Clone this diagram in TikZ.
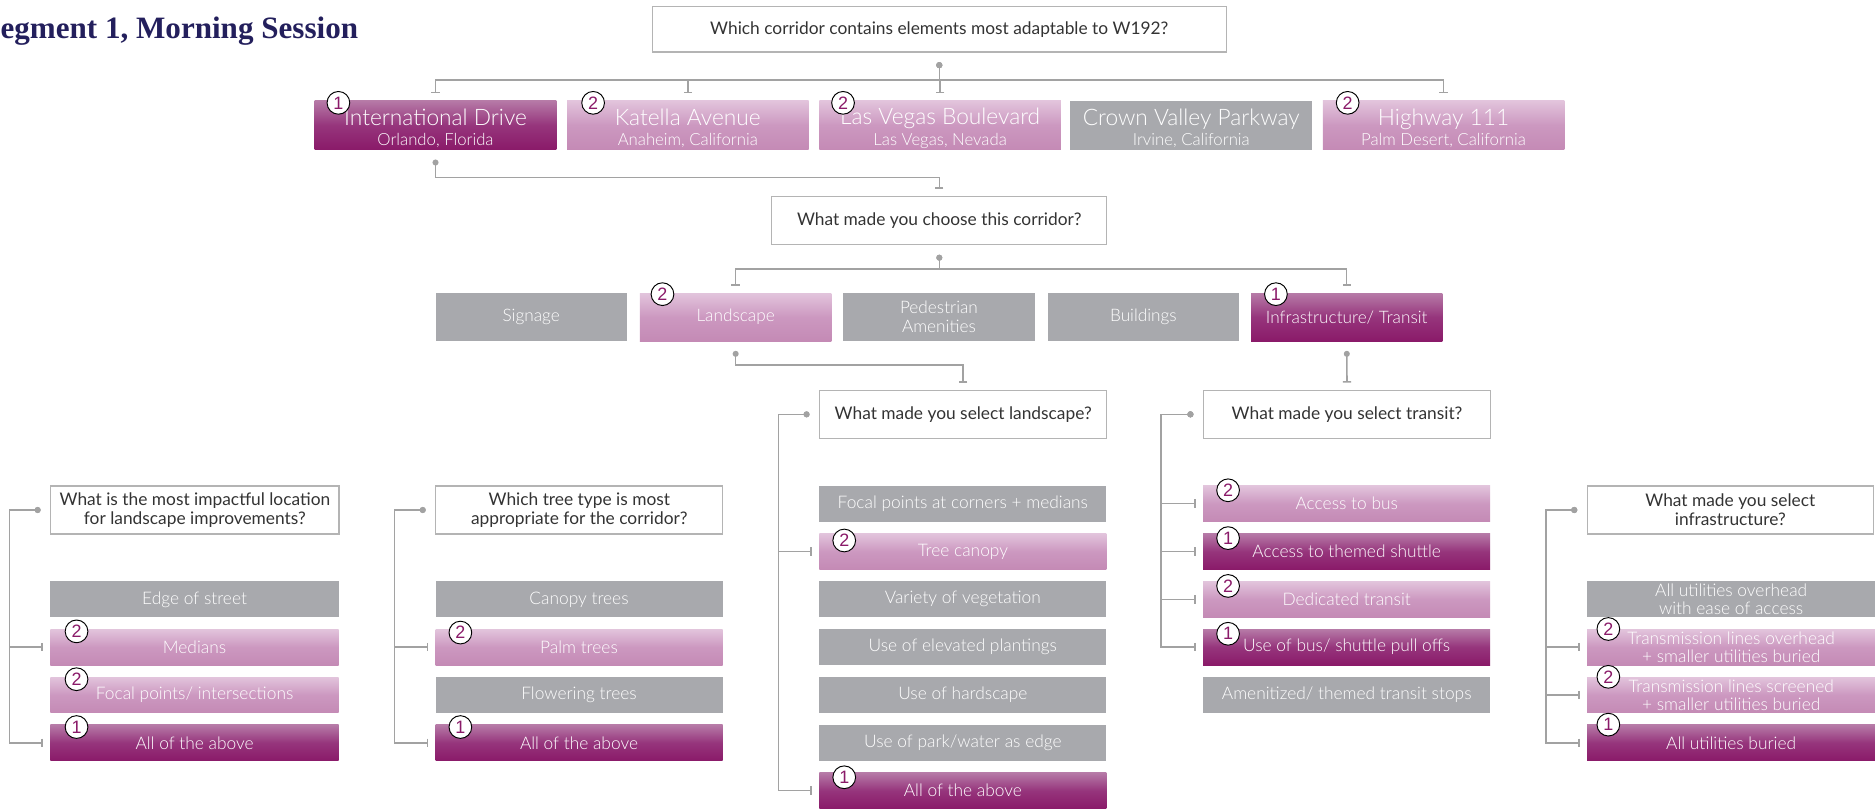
\documentclass[tikz,border=0pt]{standalone}
\usepackage{fontspec}
\setmainfont{Lato}[UprightFont={* Light}]
\newfontfamily\qfont{Lato}
\newfontfamily\titlefont{Liberation Serif}
\newfontfamily\numfont{Liberation Sans}
\usetikzlibrary{arrows.meta,calc}
\definecolor{cgray}{HTML}{A8A9AD}
\definecolor{lA}{HTML}{E2C4DC}
\definecolor{lB}{HTML}{CC98C0}
\definecolor{lC}{HTML}{C48AB5}
\definecolor{dA}{HTML}{B67AA7}
\definecolor{dB}{HTML}{96357C}
\definecolor{dC}{HTML}{8A1A69}
\definecolor{qline}{HTML}{B4B4B4}
\definecolor{qtext}{HTML}{333333}
\definecolor{lgray}{HTML}{A2A2A2}
\definecolor{numc}{HTML}{8A1A69}
\definecolor{navy}{HTML}{231F5C}
\newcommand\rank[3]{\node[badge] (#1-r) at ($(#1.north west)+(#2)$) {#3};}
\tikzset{
  box/.style={anchor=north west, inner sep=0pt, minimum width=240pt, minimum height=30pt,
    text=white, align=center, font=\fontsize{14.5}{15}\selectfont},
  gbox/.style={box, fill=cgray},
  lbox/.style={box, top color=lA, bottom color=lC, middle color=lB},
  dbox/.style={box, top color=dA, bottom color=dC, middle color=dB},
  rowtwo/.style={minimum width=160pt, minimum height=40pt, font=\fontsize{14.4}{16}\selectfont},
  rowone/.style={minimum width=202pt, minimum height=41pt, font=\fontsize{14}{15}\selectfont},
  qbox/.style={anchor=north west, draw=qline, line width=1pt, fill=white, text=qtext,
    inner sep=0pt, minimum width=240pt, minimum height=40pt, align=center,
    font=\qfont\fontsize{14.5}{16}\selectfont},
  badge/.style={circle, draw=black, fill=white, line width=0.8pt, minimum size=19pt,
    inner sep=0pt, text=numc, font=\numfont\fontsize{15}{15}\selectfont},
  conn/.style={draw=lgray, line width=1.3pt, {Circle[length=5pt]}-{Bar[width=7pt]},
    shorten <=8pt, shorten >=6pt},
}
\newcommand\cname[2]{{\fontsize{19}{21}\selectfont\rule{0pt}{19pt}#1}\\[2pt]#2}
\begin{document}
\begin{tikzpicture}[x=1pt,y=-1pt]
\useasboundingbox (0,0) rectangle (1568,676);
\node[anchor=base east, text=navy, font=\titlefont\bfseries\fontsize{26}{28}\selectfont] (title) at (303,32) {Segment 1, Morning Session};

% top question
\node[qbox, minimum width=480pt, minimum height=38pt] (q1) at (545,5) {Which corridor contains elements most adaptable to W192?};

% corridors
\node[dbox, rowone] (c1) at (263,84) {\cname{International Drive}{Orlando, Florida}};
\node[lbox, rowone] (c2) at (474,84) {\cname{Katella Avenue}{Anaheim, California}};
\node[lbox, rowone] (c3) at (685,84) {\cname{Las Vegas Boulevard}{Las Vegas, Nevada}};
\node[gbox, rowone] (c4) at (895,84) {\cname{Crown Valley Parkway}{Irvine, California}};
\node[lbox, rowone] (c5) at (1106,84) {\cname{Highway 111}{Palm Desert, California}};
\rank{c1}{20,2}{1}
\rank{c2}{22,2}{2}
\rank{c3}{20,2}{2}
\rank{c5}{21,2}{2}

\draw[conn] (q1.south) -- ++(0,23) -| (c1.north);
\draw[conn] (q1.south) -- ++(0,23) -| (c2.north);
\draw[conn] (q1.south) -- ++(0,23) -| (c3.north);
\draw[conn] (q1.south) -- ++(0,23) -| (c5.north);

% second question
\node[qbox, minimum width=280pt] (q2) at (645,164) {What made you choose this corridor?};
\draw[conn] (c1.south) -- ++(0,23) -| (q2.north);

% row two
\node[gbox, rowtwo] (r1) at (364,245) {Signage};
\node[lbox, rowtwo] (r2) at (535,245) {Landscape};
\node[gbox, rowtwo] (r3) at (705,245) {Pedestrian\\Amenities};
\node[gbox, rowtwo] (r4) at (876,245) {Buildings};
\node[dbox, rowtwo] (r5) at (1046,245) {Infrastructure/ Transit};
\rank{r2}{19,1}{2}
\rank{r5}{21,1}{1}
\draw[conn] (q2.south) -- ++(0,20) -| (r2.north);
\draw[conn] (q2.south) -- ++(0,20) -| (r5.north);

% landscape / transit questions
\node[qbox] (q3) at (685,326) {What made you select landscape?};
\node[qbox] (q4) at (1006,326) {What made you select transit?};
\draw[conn] (r2.south) -- ++(0,20) -| (q3.north);
\draw[conn] (r5.south) -- (q4.north);

% landscape list
\node[gbox] (l1) at (685,406) {Focal points at corners + medians};
\node[lbox] (l2) at (685,446) {Tree canopy};
\node[gbox] (l3) at (685,486) {Variety of vegetation};
\node[gbox] (l4) at (685,526) {Use of elevated plantings};
\node[gbox] (l5) at (685,566) {Use of hardscape};
\node[gbox] (l6) at (685,606) {Use of park/water as edge};
\node[dbox] (l7) at (685,646) {All of the above};
\rank{l2}{21,6}{2}
\rank{l7}{21,4}{1}
\draw[conn] (q3.west) -- ++(-34,0) |- (l2.west);
\draw[conn] (q3.west) -- ++(-34,0) |- (l7.west);

% transit list
\node[lbox] (t1) at (1006,406) {Access to bus};
\node[dbox] (t2) at (1006,446) {Access to themed shuttle};
\node[lbox] (t3) at (1006,486) {Dedicated transit};
\node[dbox] (t4) at (1006,526) {Use of bus/ shuttle pull offs};
\node[gbox] (t5) at (1006,566) {Amenitized/ themed transit stops};
\rank{t1}{21,4}{2}
\rank{t2}{21,4}{1}
\rank{t3}{21,4}{2}
\rank{t4}{21,4}{1}
\draw[conn] (q4.west) -- ++(-35,0) |- (t1.west);
\draw[conn] (q4.west) -- ++(-35,0) |- (t2.west);
\draw[conn] (q4.west) -- ++(-35,0) |- (t3.west);
\draw[conn] (q4.west) -- ++(-35,0) |- (t4.west);

% location question
\node[qbox, minimum width=241pt] (q5) at (42,406) {What is the most impactful location\\for landscape improvements?};
\node[gbox, minimum width=241pt] (a1) at (42,486) {Edge of street};
\node[lbox, minimum width=241pt] (a2) at (42,526) {Medians};
\node[lbox, minimum width=241pt] (a3) at (42,566) {Focal points/ intersections};
\node[dbox, minimum width=241pt] (a4) at (42,606) {All of the above};
\rank{a2}{22,2}{2}
\rank{a3}{22,2}{2}
\rank{a4}{22,2}{1}
\draw[conn] (q5.west) -- ++(-34,0) |- (a2.west);
\draw[conn] (q5.west) -- ++(-34,0) |- (a4.west);

% tree question
\node[qbox] (q6) at (364,406) {Which tree type is most\\appropriate for the corridor?};
\node[gbox] (b1) at (364,486) {Canopy trees};
\node[lbox] (b2) at (364,526) {Palm trees};
\node[gbox] (b3) at (364,566) {Flowering trees};
\node[dbox] (b4) at (364,606) {All of the above};
\rank{b2}{21,3}{2}
\rank{b4}{21,2}{1}
\draw[conn] (q6.west) -- ++(-34,0) |- (b2.west);
\draw[conn] (q6.west) -- ++(-34,0) |- (b4.west);

% infrastructure question
\node[qbox, minimum width=239pt] (q7) at (1327,406) {What made you select\\infrastructure?};
\node[gbox, minimum width=241pt] (i1) at (1327,486) {All utilities overhead\\with ease of access};
\node[lbox, minimum width=241pt] (i2) at (1327,526) {Transmission lines overhead\\+ smaller utilities buried};
\node[lbox, minimum width=241pt] (i3) at (1327,566) {Transmission lines screened\\+ smaller utilities buried};
\node[dbox, minimum width=241pt] (i4) at (1327,606) {All utilities buried};
\rank{i2}{18,0}{2}
\rank{i3}{18,0}{2}
\rank{i4}{18,0}{1}
\draw[conn] (q7.west) -- ++(-34,0) |- (i2.west);
\draw[conn] (q7.west) -- ++(-34,0) |- (i3.west);
\draw[conn] (q7.west) -- ++(-34,0) |- (i4.west);
\end{tikzpicture}
\end{document}
